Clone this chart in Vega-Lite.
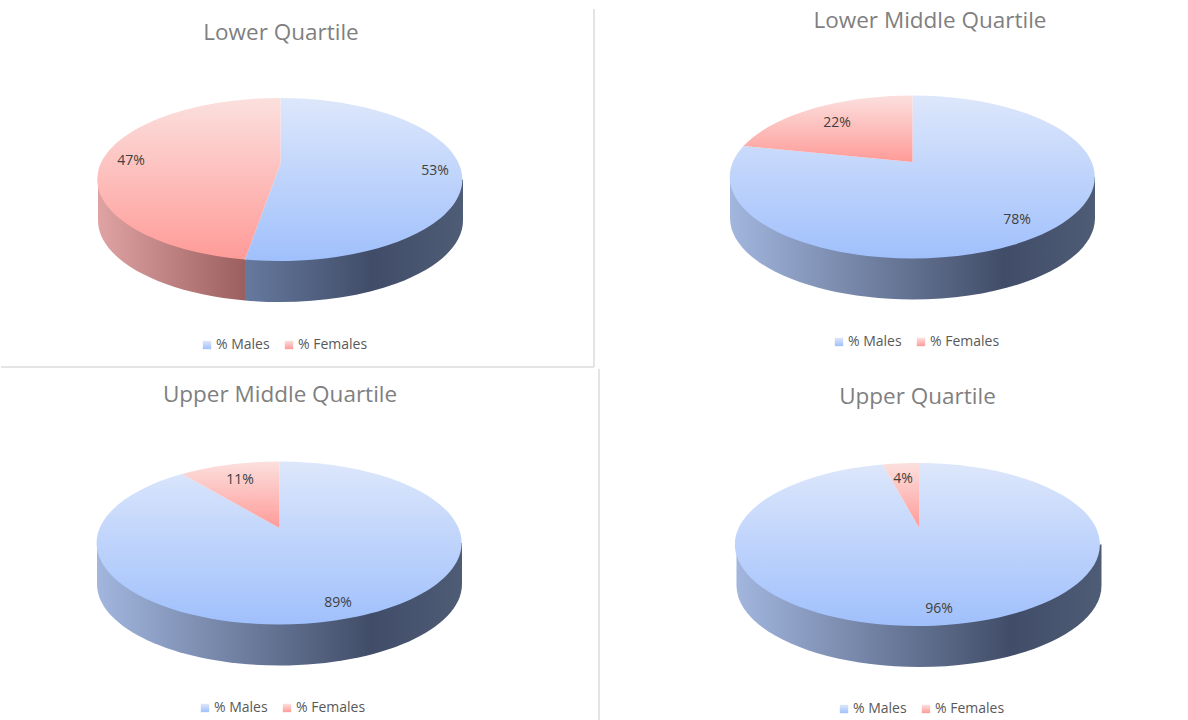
{
"$schema":"https://vega.github.io/schema/vega-lite/v6.json",
"background":"white",
"padding":{"top":8,"left":0,"right":0,"bottom":0},
"config":{"view":{"stroke":null},"concat":{"spacing":0},"font":"Open Sans"},
"spacing":0,
"resolve":{"scale":{"color":"independent"},"legend":{"color":"independent"}},
"data":{"values":[
{"quartile":"Lower Quartile","group":"% Males","share":0.53},
{"quartile":"Lower Quartile","group":"% Females","share":0.47},
{"quartile":"Lower Middle Quartile","group":"% Males","share":0.78},
{"quartile":"Lower Middle Quartile","group":"% Females","share":0.22},
{"quartile":"Upper Middle Quartile","group":"% Males","share":0.89},
{"quartile":"Upper Middle Quartile","group":"% Females","share":0.11},
{"quartile":"Upper Quartile","group":"% Males","share":0.96},
{"quartile":"Upper Quartile","group":"% Females","share":0.04}
]},
"vconcat":[
{"spacing":0,"resolve":{"scale":{"color":"independent"},"legend":{"color":"independent"}},"hconcat":[
{"width":593,"height":358,
 "title":{"text":"Lower Quartile","fontSize":22.5,"fontWeight":"normal","color":"#7f7f7f","offset":-36,"dx":-16.5},
 "transform":[{"filter":"datum.quartile==='Lower Quartile'"}],
 "layer":[
  {"transform":[{"filter":"datum.group==='% Females'"}],"mark":{"type":"point","filled":true,"opacity":1,"size":4,"xOffset":-17,"yOffset":-8.5,"shape":"M-182.5,0 L-182.5,41 A182.5,81.5 0 0 0 -35.5,121 L-35.5,80 Z","fill":{"gradient":"linear","x1":0,"y1":0,"x2":1,"y2":0,"stops":[{"offset":0,"color":"#e0a3a3"},{"offset":1,"color":"#9b5f5f"}]}},"encoding":{}},
  {"transform":[{"filter":"datum.group==='% Males'"}],"mark":{"type":"point","filled":true,"opacity":1,"size":4,"xOffset":-17,"yOffset":-8.5,"shape":"M-35.5,80 L182.5,0 L182.5,41 A182.5,81.5 0 0 1 -35.5,121 Z","fill":{"gradient":"linear","x1":0,"y1":0,"x2":1,"y2":0,"stops":[{"offset":0,"color":"#66799f"},{"offset":0.58,"color":"#414d68"},{"offset":1,"color":"#4f5c76"}]}},"encoding":{}},
  {"transform":[{"filter":"datum.group==='% Males'"}],"mark":{"type":"point","filled":true,"opacity":1,"size":4,"xOffset":-17,"yOffset":-8.5,"shape":"M0,-16 L0,-81.5 A182.5,81.5 0 1 1 -35.5,80 Z"},
   "encoding":{
    "color":{"field":"group","type":"nominal","scale":{"domain":["% Males","% Females"],"range":[{"expr":"{gradient:'linear',x1:0,y1:0,x2:0,y2:1,stops:[{offset:0,color:'#dde7fb'},{offset:1,color:'#a0c0fc'}]}"},{"expr":"{gradient:'linear',x1:0,y1:0,x2:0,y2:1,stops:[{offset:0,color:'#fbe0de'},{offset:1,color:'#ff9b98'}]}"}]},
     "legend":{"title":null,"orient":"none","legendX":199,"legendY":329,"direction":"horizontal","symbolType":"square","symbolSize":70,"labelFontSize":14,"labelColor":"#595959","labelOffset":2,"columnPadding":12,"symbolOpacity":1}}}},
  {"transform":[{"filter":"datum.group==='% Females'"}],"mark":{"type":"point","filled":true,"opacity":1,"size":4,"xOffset":-17,"yOffset":-8.5,"shape":"M0,-16 L-35.5,80 A182.5,81.5 0 0 1 0,-81.5 Z"},
   "encoding":{
    "color":{"field":"group","type":"nominal","scale":{"domain":["% Males","% Females"],"range":[{"expr":"{gradient:'linear',x1:0,y1:0,x2:0,y2:1,stops:[{offset:0,color:'#dde7fb'},{offset:1,color:'#a0c0fc'}]}"},{"expr":"{gradient:'linear',x1:0,y1:0,x2:0,y2:1,stops:[{offset:0,color:'#fbe0de'},{offset:1,color:'#ff9b98'}]}"}]}}}},
  {"transform":[{"filter":"datum.group==='% Males'"}],"mark":{"type":"text","fontSize":14,"color":"#404040","dx":137.5,"dy":-17},"encoding":{"text":{"field":"share","format":".0%"}}},
  {"transform":[{"filter":"datum.group==='% Females'"}],"mark":{"type":"text","fontSize":14,"color":"#404040","dx":-166.5,"dy":-27},"encoding":{"text":{"field":"share","format":".0%"}}},
  {"mark":{"type":"rule","color":"#e2e2e2","strokeWidth":1.5},"encoding":{"x":{"value":"width"}}},
  {"mark":{"type":"rule","color":"#e2e2e2","strokeWidth":1.5},"encoding":{"y":{"value":"height"}}}
 ]},
{"width":595,"height":359,
 "title":{"text":"Lower Middle Quartile","fontSize":22.5,"fontWeight":"normal","color":"#7f7f7f","offset":-23,"dx":37.5},
 "transform":[{"filter":"datum.quartile==='Lower Middle Quartile'"}],
 "layer":[
  {"transform":[{"filter":"datum.group==='% Males'"}],"mark":{"type":"point","filled":true,"opacity":1,"size":4,"xOffset":20,"yOffset":-11.5,"shape":"M-182.5,0 L182.5,0 L182.5,41 A182.5,81.5 0 0 1 -182.5,41 Z","fill":{"gradient":"linear","x1":0,"y1":0,"x2":1,"y2":0,"stops":[{"offset":0,"color":"#a2b6de"},{"offset":0.75,"color":"#414d68"},{"offset":1,"color":"#4f5c76"}]}},"encoding":{}},
  {"transform":[{"filter":"datum.group==='% Males'"}],"mark":{"type":"point","filled":true,"opacity":1,"size":4,"xOffset":20,"yOffset":-11.5,"shape":"M0,-15 L0,-81.5 A182.5,81.5 0 1 1 -169,-31 Z"},
   "encoding":{
    "color":{"field":"group","type":"nominal","scale":{"domain":["% Males","% Females"],"range":[{"expr":"{gradient:'linear',x1:0,y1:0,x2:0,y2:1,stops:[{offset:0,color:'#dde7fb'},{offset:1,color:'#a0c0fc'}]}"},{"expr":"{gradient:'linear',x1:0,y1:0,x2:0,y2:1,stops:[{offset:0,color:'#fbe0de'},{offset:1,color:'#ff9b98'}]}"}]},
     "legend":{"title":null,"orient":"none","legendX":237,"legendY":326,"direction":"horizontal","symbolType":"square","symbolSize":70,"labelFontSize":14,"labelColor":"#595959","labelOffset":2,"columnPadding":12,"symbolOpacity":1}}}},
  {"transform":[{"filter":"datum.group==='% Females'"}],"mark":{"type":"point","filled":true,"opacity":1,"size":4,"xOffset":20,"yOffset":-11.5,"shape":"M0,-15 L-169,-31 A182.5,81.5 0 0 1 0,-81.5 Z"},
   "encoding":{
    "color":{"field":"group","type":"nominal","scale":{"domain":["% Males","% Females"],"range":[{"expr":"{gradient:'linear',x1:0,y1:0,x2:0,y2:1,stops:[{offset:0,color:'#dde7fb'},{offset:1,color:'#a0c0fc'}]}"},{"expr":"{gradient:'linear',x1:0,y1:0,x2:0,y2:1,stops:[{offset:0,color:'#fbe0de'},{offset:1,color:'#ff9b98'}]}"}]}}}},
  {"transform":[{"filter":"datum.group==='% Males'"}],"mark":{"type":"text","fontSize":14,"color":"#404040","dx":124.5,"dy":31},"encoding":{"text":{"field":"share","format":".0%"}}},
  {"transform":[{"filter":"datum.group==='% Females'"}],"mark":{"type":"text","fontSize":14,"color":"#404040","dx":-55.5,"dy":-66},"encoding":{"text":{"field":"share","format":".0%"}}}
 ]}
]},
{"spacing":0,"resolve":{"scale":{"color":"independent"},"legend":{"color":"independent"}},"hconcat":[
{"width":598,"height":353,
 "title":{"text":"Upper Middle Quartile","fontSize":22.5,"fontWeight":"normal","color":"#7f7f7f","offset":-38,"dx":-20},
 "transform":[{"filter":"datum.quartile==='Upper Middle Quartile'"}],
 "layer":[
  {"transform":[{"filter":"datum.group==='% Males'"}],"mark":{"type":"point","filled":true,"opacity":1,"size":4,"xOffset":-20.5,"yOffset":-2.5,"shape":"M-182.5,0 L182.5,0 L182.5,41 A182.5,81.5 0 0 1 -182.5,41 Z","fill":{"gradient":"linear","x1":0,"y1":0,"x2":1,"y2":0,"stops":[{"offset":0,"color":"#a2b6de"},{"offset":0.75,"color":"#414d68"},{"offset":1,"color":"#4f5c76"}]}},"encoding":{}},
  {"transform":[{"filter":"datum.group==='% Males'"}],"mark":{"type":"point","filled":true,"opacity":1,"size":4,"xOffset":-20.5,"yOffset":-2.5,"shape":"M0,-15 L0,-81.5 A182.5,81.5 0 1 1 -97.5,-69 Z"},
   "encoding":{
    "color":{"field":"group","type":"nominal","scale":{"domain":["% Males","% Females"],"range":[{"expr":"{gradient:'linear',x1:0,y1:0,x2:0,y2:1,stops:[{offset:0,color:'#dde7fb'},{offset:1,color:'#a0c0fc'}]}"},{"expr":"{gradient:'linear',x1:0,y1:0,x2:0,y2:1,stops:[{offset:0,color:'#fbe0de'},{offset:1,color:'#ff9b98'}]}"}]},
     "legend":{"title":null,"orient":"none","legendX":197,"legendY":332,"direction":"horizontal","symbolType":"square","symbolSize":70,"labelFontSize":14,"labelColor":"#595959","labelOffset":2,"columnPadding":12,"symbolOpacity":1}}}},
  {"transform":[{"filter":"datum.group==='% Females'"}],"mark":{"type":"point","filled":true,"opacity":1,"size":4,"xOffset":-20.5,"yOffset":-2.5,"shape":"M0,-15 L-97.5,-69 A182.5,81.5 0 0 1 0,-81.5 Z"},
   "encoding":{
    "color":{"field":"group","type":"nominal","scale":{"domain":["% Males","% Females"],"range":[{"expr":"{gradient:'linear',x1:0,y1:0,x2:0,y2:1,stops:[{offset:0,color:'#dde7fb'},{offset:1,color:'#a0c0fc'}]}"},{"expr":"{gradient:'linear',x1:0,y1:0,x2:0,y2:1,stops:[{offset:0,color:'#fbe0de'},{offset:1,color:'#ff9b98'}]}"}]}}}},
  {"transform":[{"filter":"datum.group==='% Males'"}],"mark":{"type":"text","fontSize":14,"color":"#404040","dx":38,"dy":57.5},"encoding":{"text":{"field":"share","format":".0%"}}},
  {"transform":[{"filter":"datum.group==='% Females'"}],"mark":{"type":"text","fontSize":14,"color":"#404040","dx":-60,"dy":-65.5},"encoding":{"text":{"field":"share","format":".0%"}}},
  {"mark":{"type":"rule","color":"#e2e2e2","strokeWidth":1.5},"encoding":{"x":{"value":"width"}}}
 ]},
{"width":590,"height":353,
 "title":{"text":"Upper Quartile","fontSize":22.5,"fontWeight":"normal","color":"#7f7f7f","offset":-39,"dx":22.5},
 "transform":[{"filter":"datum.quartile==='Upper Quartile'"}],
 "layer":[
  {"transform":[{"filter":"datum.group==='% Males'"}],"mark":{"type":"point","filled":true,"opacity":1,"size":4,"xOffset":24,"yOffset":-1,"shape":"M-182.5,0 L182.5,0 L182.5,41 A182.5,81.5 0 0 1 -182.5,41 Z","fill":{"gradient":"linear","x1":0,"y1":0,"x2":1,"y2":0,"stops":[{"offset":0,"color":"#a2b6de"},{"offset":0.75,"color":"#414d68"},{"offset":1,"color":"#4f5c76"}]}},"encoding":{}},
  {"transform":[{"filter":"datum.group==='% Males'"}],"mark":{"type":"point","filled":true,"opacity":1,"size":4,"xOffset":24,"yOffset":-1,"shape":"M0,-17 L0,-81.5 A182.5,81.5 0 1 1 -36.5,-80 Z"},
   "encoding":{
    "color":{"field":"group","type":"nominal","scale":{"domain":["% Males","% Females"],"range":[{"expr":"{gradient:'linear',x1:0,y1:0,x2:0,y2:1,stops:[{offset:0,color:'#dde7fb'},{offset:1,color:'#a0c0fc'}]}"},{"expr":"{gradient:'linear',x1:0,y1:0,x2:0,y2:1,stops:[{offset:0,color:'#fbe0de'},{offset:1,color:'#ff9b98'}]}"}]},
     "legend":{"title":null,"orient":"none","legendX":237,"legendY":333,"direction":"horizontal","symbolType":"square","symbolSize":70,"labelFontSize":14,"labelColor":"#595959","labelOffset":2,"columnPadding":12,"symbolOpacity":1}}}},
  {"transform":[{"filter":"datum.group==='% Females'"}],"mark":{"type":"point","filled":true,"opacity":1,"size":4,"xOffset":24,"yOffset":-1,"shape":"M0,-17 L-36.5,-80 A182.5,81.5 0 0 1 0,-81.5 Z"},
   "encoding":{
    "color":{"field":"group","type":"nominal","scale":{"domain":["% Males","% Females"],"range":[{"expr":"{gradient:'linear',x1:0,y1:0,x2:0,y2:1,stops:[{offset:0,color:'#dde7fb'},{offset:1,color:'#a0c0fc'}]}"},{"expr":"{gradient:'linear',x1:0,y1:0,x2:0,y2:1,stops:[{offset:0,color:'#fbe0de'},{offset:1,color:'#ff9b98'}]}"}]}}}},
  {"transform":[{"filter":"datum.group==='% Males'"}],"mark":{"type":"text","fontSize":14,"color":"#404040","dx":44,"dy":63.5},"encoding":{"text":{"field":"share","format":".0%"}}},
  {"transform":[{"filter":"datum.group==='% Females'"}],"mark":{"type":"text","fontSize":14,"color":"#404040","dx":8,"dy":-66.5},"encoding":{"text":{"field":"share","format":".0%"}}}
 ]}
]}
]
}
